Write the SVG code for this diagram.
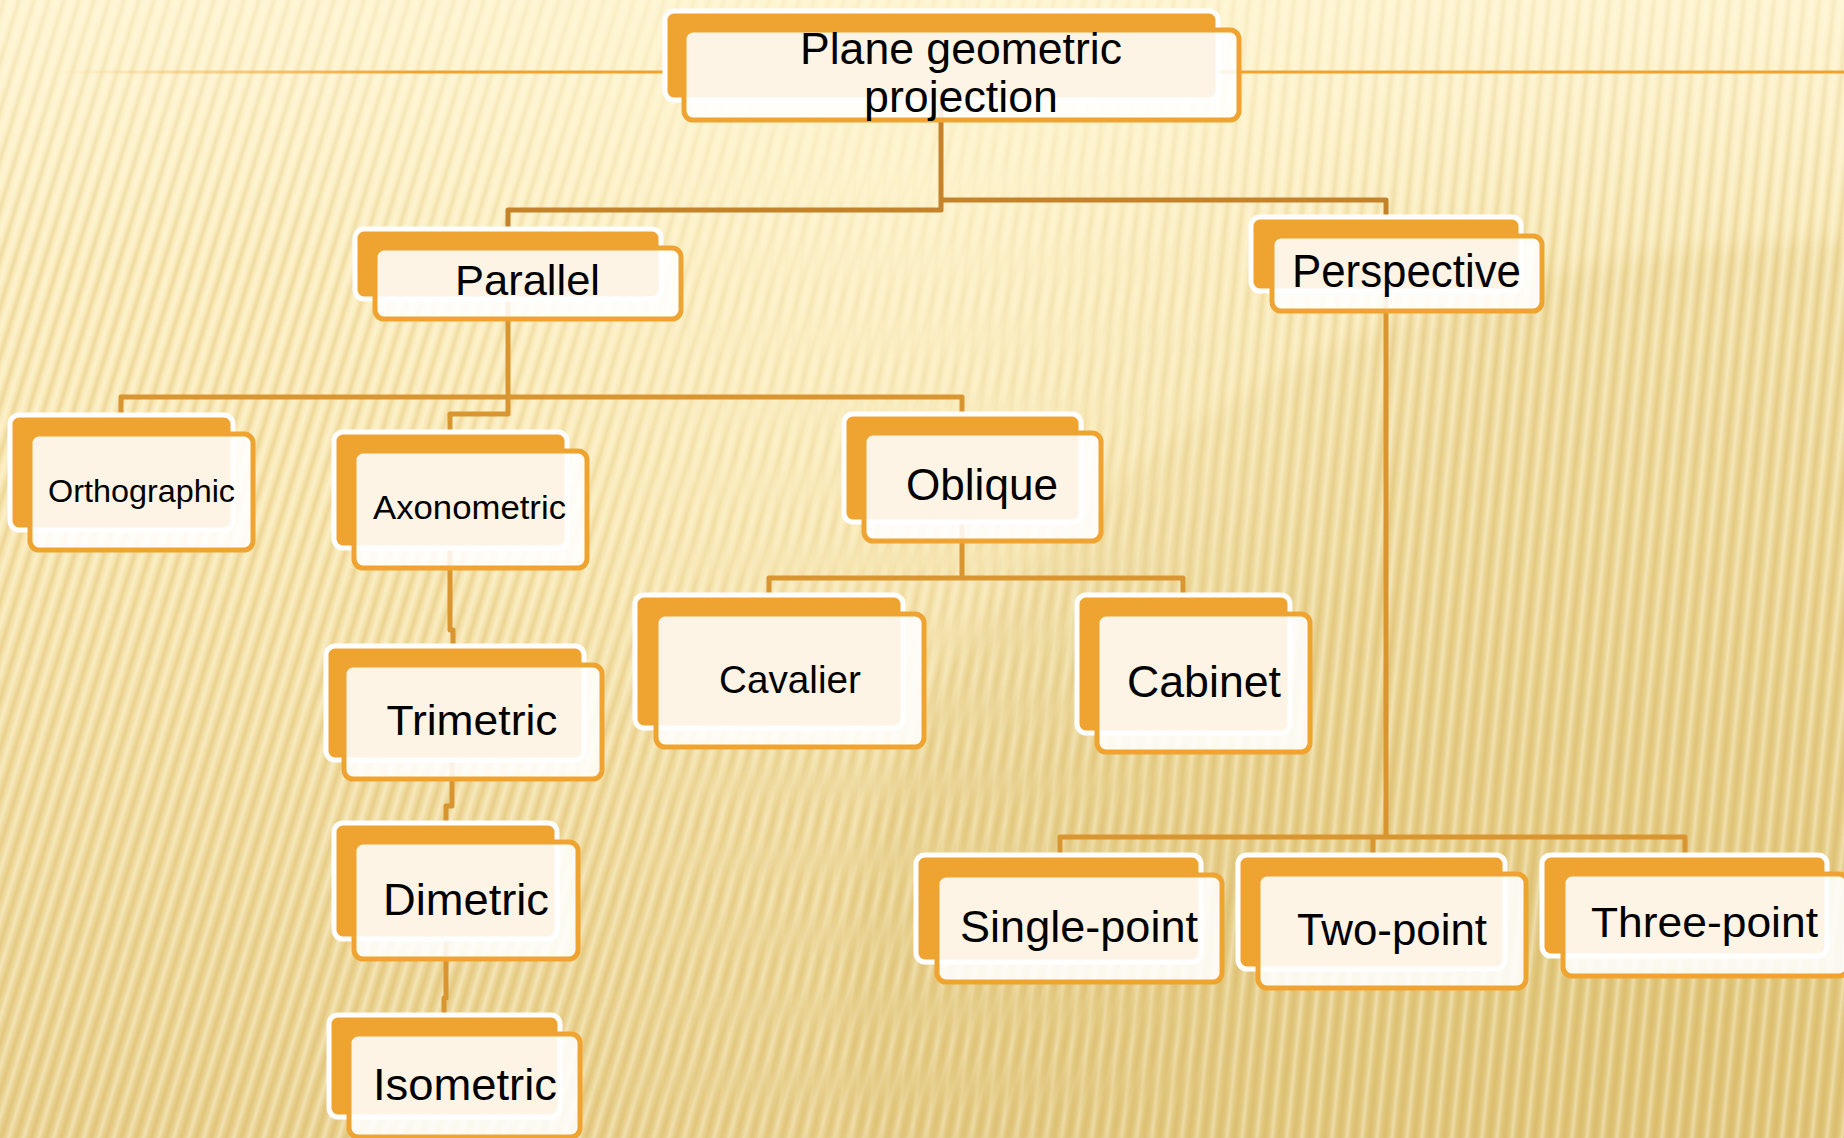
<svg xmlns="http://www.w3.org/2000/svg" width="1844" height="1138" viewBox="0 0 1844 1138">
  <defs>
    <style>
      .bk { fill: #EFA330; stroke: #FFFFFF; stroke-width: 5; }
      .fr { fill: #FFFFFF; fill-opacity: 0.88; stroke: #EFA330; stroke-width: 5; }
      .lbl { font-family: "Liberation Sans", Arial, sans-serif; fill: #000000; text-anchor: middle; }
      .c1 { fill: none; stroke: #C4832A; stroke-width: 5; stroke-linejoin: round; }
      .c2 { fill: none; stroke: #D9952F; stroke-width: 5; stroke-linejoin: round; }
    </style>
    <!-- background tones -->
    <linearGradient id="bgV" x1="0" y1="0" x2="0" y2="1">
      <stop offset="0" stop-color="#FEF3CB"/>
      <stop offset="0.45" stop-color="#F9E8B4"/>
      <stop offset="1" stop-color="#E9D18F"/>
    </linearGradient>
    <radialGradient id="bgShade" cx="1700" cy="1050" r="1100" gradientUnits="userSpaceOnUse">
      <stop offset="0" stop-color="#D6B862" stop-opacity="0.40"/>
      <stop offset="0.6" stop-color="#DCC172" stop-opacity="0.20"/>
      <stop offset="1" stop-color="#E6CF8A" stop-opacity="0"/>
    </radialGradient>
    <radialGradient id="glow" cx="900" cy="180" r="620" gradientUnits="userSpaceOnUse">
      <stop offset="0" stop-color="#FFF6D2" stop-opacity="0.55"/>
      <stop offset="1" stop-color="#FFF6D2" stop-opacity="0"/>
    </radialGradient>
    <linearGradient id="topGlow" x1="0" y1="0" x2="0" y2="1">
      <stop offset="0" stop-color="#FFF7DA" stop-opacity="0.5"/>
      <stop offset="1" stop-color="#FFF7DA" stop-opacity="0"/>
    </linearGradient>
    <filter id="soft" x="-10%" y="-10%" width="120%" height="120%">
      <feGaussianBlur stdDeviation="8"/>
    </filter>
    <!-- ribbed stripes -->
    <linearGradient id="stripeG" x1="0" y1="0" x2="1" y2="0">
      <stop offset="0" stop-color="#C9A040" stop-opacity="0"/>
      <stop offset="0.5" stop-color="#C9A040" stop-opacity="0.26"/>
      <stop offset="1" stop-color="#C9A040" stop-opacity="0"/>
    </linearGradient>
    <linearGradient id="stripeW" x1="0" y1="0" x2="1" y2="0">
      <stop offset="0" stop-color="#FFFBE6" stop-opacity="0"/>
      <stop offset="0.5" stop-color="#FFFBE6" stop-opacity="0.4"/>
      <stop offset="1" stop-color="#FFFBE6" stop-opacity="0"/>
    </linearGradient>
    <pattern id="stripesL" width="15" height="60" patternUnits="userSpaceOnUse" patternTransform="skewX(-17)">
      <rect x="0" width="8" height="60" fill="url(#stripeG)"/>
      <rect x="8" width="7" height="60" fill="url(#stripeW)"/>
    </pattern>
    <pattern id="stripesR" width="15" height="60" patternUnits="userSpaceOnUse" patternTransform="skewX(-6)">
      <rect x="0" width="8" height="60" fill="url(#stripeG)"/>
      <rect x="8" width="7" height="60" fill="url(#stripeW)"/>
    </pattern>
    <linearGradient id="fadeL" x1="0" y1="0" x2="1" y2="0">
      <stop offset="0" stop-color="#FFFFFF"/>
      <stop offset="0.3" stop-color="#FFFFFF"/>
      <stop offset="0.7" stop-color="#000000"/>
    </linearGradient>
    <linearGradient id="fadeR" x1="0" y1="0" x2="1" y2="0">
      <stop offset="0.3" stop-color="#000000"/>
      <stop offset="0.7" stop-color="#FFFFFF"/>
    </linearGradient>
    <mask id="mL"><rect width="1844" height="1138" fill="url(#fadeL)"/></mask>
    <mask id="mR"><rect width="1844" height="1138" fill="url(#fadeR)"/></mask>
    <!-- rule under the title -->
    <linearGradient id="ruleG" x1="58" y1="0" x2="420" y2="0" gradientUnits="userSpaceOnUse">
      <stop offset="0" stop-color="#EFA330" stop-opacity="0"/>
      <stop offset="1" stop-color="#EFA330" stop-opacity="1"/>
    </linearGradient>
  </defs>

  <!-- background -->
  <g id="background">
    <rect width="1844" height="1138" fill="url(#bgV)"/>
    <rect width="1844" height="1138" fill="url(#bgShade)"/>
    <ellipse cx="1844" cy="1010" rx="1000" ry="770" fill="#D8BB68" opacity="0.16" filter="url(#soft)"/>
    <rect width="1844" height="1138" fill="url(#stripesL)" mask="url(#mL)"/>
    <rect width="1844" height="1138" fill="url(#stripesR)" mask="url(#mR)"/>
    <rect width="1844" height="260" fill="url(#topGlow)"/>
    <rect width="1844" height="1138" fill="url(#glow)"/>
    <line x1="58" y1="72" x2="1844" y2="72" stroke="url(#ruleG)" stroke-width="3"/>
  </g>

  <!-- connectors -->
  <g id="connectors">
    <path class="c1" d="M941,95 V210 H508 V229"/>
    <path class="c1" d="M941,200 H1386 V217"/>
    <path class="c2" d="M508,295 V414 H450 V432"/>
    <path class="c2" d="M121,415 V397 H962 V414"/>
    <path class="c2" d="M450,545 V630 H453 V646"/>
    <path class="c2" d="M452,757 V806 H446 V823"/>
    <path class="c2" d="M446,936 V998 H444 V1015"/>
    <path class="c2" d="M962,518 V578"/>
    <path class="c2" d="M769,595 V578 H1183 V595"/>
    <path class="c2" d="M1386,287 V837"/>
    <path class="c2" d="M1060,855 V837 H1685 V855"/>
    <path class="c2" d="M1373,837 V855"/>
  </g>

  <!-- nodes -->
  <g id="node-root">
    <rect class="bk" x="665" y="11" width="553" height="89" rx="9"/>
    <rect class="fr" x="684" y="30" width="555" height="90" rx="9"/>
    <text class="lbl" x="961" y="64" font-size="45" textLength="322" lengthAdjust="spacingAndGlyphs">Plane geometric</text>
    <text class="lbl" x="961" y="112" font-size="45" textLength="194" lengthAdjust="spacingAndGlyphs">projection</text>
  </g>

  <g id="node-parallel">
    <rect class="bk" x="355" y="229" width="306" height="70" rx="9"/>
    <rect class="fr" x="375" y="248" width="306" height="71" rx="9"/>
    <text class="lbl" x="527.5" y="295" font-size="42" textLength="145" lengthAdjust="spacingAndGlyphs">Parallel</text>
  </g>

  <g id="node-perspective">
    <rect class="bk" x="1251" y="217" width="270" height="74" rx="9"/>
    <rect class="fr" x="1272" y="236" width="270" height="75" rx="9"/>
    <text class="lbl" x="1406.5" y="287" font-size="46" textLength="229" lengthAdjust="spacingAndGlyphs">Perspective</text>
  </g>

  <g id="node-orthographic">
    <rect class="bk" x="10" y="415" width="223" height="115" rx="9"/>
    <rect class="fr" x="30" y="434" width="223" height="116" rx="9"/>
    <text class="lbl" x="141.5" y="502" font-size="32" textLength="187" lengthAdjust="spacingAndGlyphs">Orthographic</text>
  </g>

  <g id="node-axonometric">
    <rect class="bk" x="334" y="432" width="233" height="116" rx="9"/>
    <rect class="fr" x="354" y="451" width="233" height="117" rx="9"/>
    <text class="lbl" x="469.5" y="519" font-size="34" textLength="193" lengthAdjust="spacingAndGlyphs">Axonometric</text>
  </g>

  <g id="node-oblique">
    <rect class="bk" x="844" y="414" width="237" height="108" rx="9"/>
    <rect class="fr" x="864" y="433" width="237" height="108" rx="9"/>
    <text class="lbl" x="982" y="500" font-size="44" textLength="152" lengthAdjust="spacingAndGlyphs">Oblique</text>
  </g>

  <g id="node-cavalier">
    <rect class="bk" x="635" y="595" width="268" height="133" rx="9"/>
    <rect class="fr" x="656" y="614" width="268" height="133" rx="9"/>
    <text class="lbl" x="790" y="693" font-size="39" textLength="142" lengthAdjust="spacingAndGlyphs">Cavalier</text>
  </g>

  <g id="node-cabinet">
    <rect class="bk" x="1077" y="595" width="213" height="138" rx="9"/>
    <rect class="fr" x="1097" y="614" width="213" height="138" rx="9"/>
    <text class="lbl" x="1204" y="697" font-size="44" textLength="154" lengthAdjust="spacingAndGlyphs">Cabinet</text>
  </g>

  <g id="node-trimetric">
    <rect class="bk" x="326" y="646" width="258" height="114" rx="9"/>
    <rect class="fr" x="344" y="665" width="258" height="114" rx="9"/>
    <text class="lbl" x="472" y="735" font-size="43" textLength="171" lengthAdjust="spacingAndGlyphs">Trimetric</text>
  </g>

  <g id="node-dimetric">
    <rect class="bk" x="334" y="823" width="223" height="116" rx="9"/>
    <rect class="fr" x="354" y="842" width="224" height="117" rx="9"/>
    <text class="lbl" x="466" y="915" font-size="44" textLength="166" lengthAdjust="spacingAndGlyphs">Dimetric</text>
  </g>

  <g id="node-isometric">
    <rect class="bk" x="329" y="1015" width="231" height="102" rx="9"/>
    <rect class="fr" x="349" y="1034" width="231" height="103" rx="9"/>
    <text class="lbl" x="465" y="1100" font-size="44" textLength="184" lengthAdjust="spacingAndGlyphs">Isometric</text>
  </g>

  <g id="node-single-point">
    <rect class="bk" x="916" y="855" width="285" height="107" rx="9"/>
    <rect class="fr" x="937" y="875" width="285" height="107" rx="9"/>
    <text class="lbl" x="1079" y="942" font-size="45" textLength="238" lengthAdjust="spacingAndGlyphs">Single-point</text>
  </g>

  <g id="node-two-point">
    <rect class="bk" x="1238" y="855" width="267" height="114" rx="9"/>
    <rect class="fr" x="1258" y="874" width="268" height="114" rx="9"/>
    <text class="lbl" x="1392" y="945" font-size="44" textLength="190" lengthAdjust="spacingAndGlyphs">Two-point</text>
  </g>

  <g id="node-three-point">
    <rect class="bk" x="1542" y="855" width="285" height="101" rx="9"/>
    <rect class="fr" x="1563" y="874" width="285" height="102" rx="9"/>
    <text class="lbl" x="1704.5" y="937" font-size="43" textLength="227" lengthAdjust="spacingAndGlyphs">Three-point</text>
  </g>
</svg>
